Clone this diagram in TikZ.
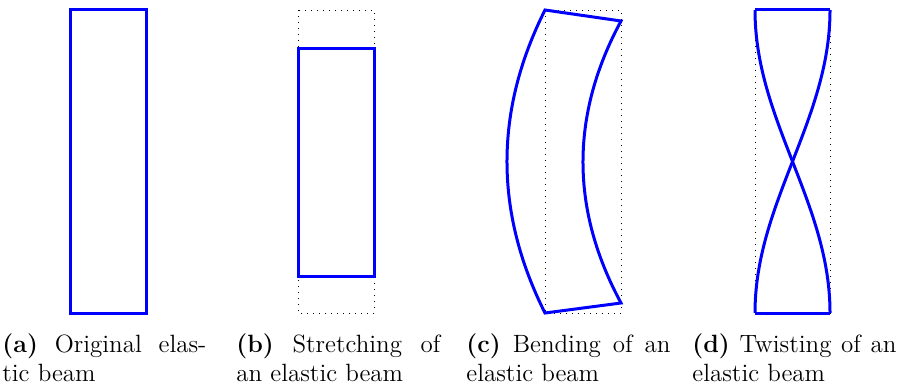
\documentclass[tikz,border=0pt]{standalone}
\usepackage{tikz}
\usetikzlibrary{positioning}

\tikzset{
  beam/.style={blue, line width=1.5pt},
  restbox/.style={black, line width=0.4pt, dash pattern=on 0.5pt off 2.5pt},
  subcap/.style={anchor=base west, inner sep=0pt, text width=102pt, align=justify,
    font=\fontsize{12.5}{14.5}\selectfont}
}

\begin{document}
\begin{tikzpicture}[x=0.5pt, y=-0.5pt]
      \useasboundingbox (0,0) rectangle (897,385);
      % (a) original beam
      \draw[beam] (70,10) rectangle (146,313);
      % (b) stretched beam
      \draw[restbox] (298,10) rectangle (374,313);
      \draw[beam] (298,49) rectangle (374,276);
      % (c) bent beam
      \draw[restbox] (545,10) rectangle (621,313);
      \draw[beam] (545,10) -- (621,21) .. controls (570.3,115) and (570.3,209) .. (621,303)
        -- (545,313) .. controls (494.3,212) and (494.3,111) .. (545,10) -- cycle;
      % (d) twisted beam
      \draw[restbox] (755,10) rectangle (830,313);
      \draw[beam] (755,10) -- (830,10);
      \draw[beam] (755,313) -- (830,313);
      \draw[beam] plot[domain=0:1, samples=80] ({792.5-37.5*cos(180*\x)}, {10+303*\x});
      \draw[beam] plot[domain=0:1, samples=80] ({792.5+37.5*cos(180*\x)}, {10+303*\x});
      % captions
      \node[subcap] (capa) at (2,352) {\textbf{(a)} Original elas-\linebreak tic beam};
      \node[subcap] (capb) at (236,352) {\textbf{(b)} Stretching of\linebreak an elastic beam};
      \node[subcap] (capc) at (466,352) {\textbf{(c)} Bending of an\linebreak elastic beam};
      \node[subcap] (capd) at (692,352) {\textbf{(d)} Twisting of an\linebreak elastic beam};
\end{tikzpicture}
\end{document}
